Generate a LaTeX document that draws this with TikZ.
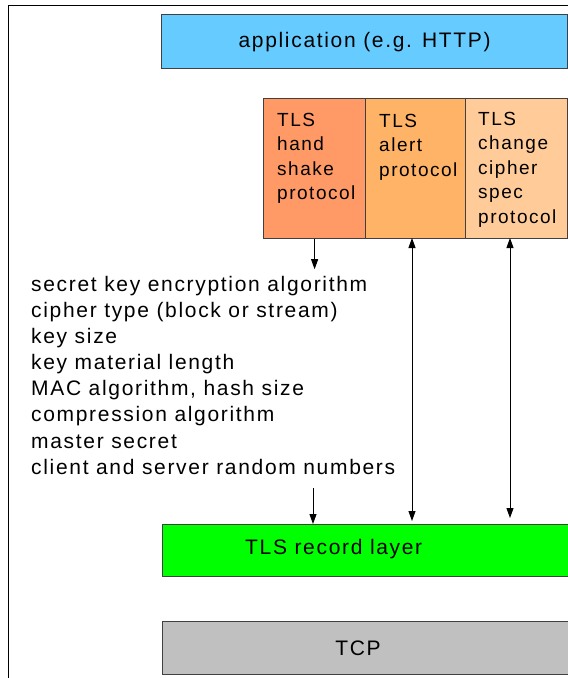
\documentclass[tikz,border=0pt]{standalone}
\usepackage{fontspec}
\setmainfont[LetterSpace=8]{Liberation Sans}
\usetikzlibrary{arrows.meta}
\definecolor{appblue}{HTML}{66CCFF}
\definecolor{hsorange}{HTML}{FF9966}
\definecolor{alorange}{HTML}{FFB366}
\definecolor{ccorange}{HTML}{FFCC99}
\definecolor{recgreen}{HTML}{00FF00}
\definecolor{tcpgray}{HTML}{C0C0C0}
\begin{document}
\begin{tikzpicture}[x=1pt, y=-1pt, >={Triangle[length=10pt, width=7pt]},
    layer/.style={draw=black!75, line width=1.2pt, anchor=north west, inner sep=0pt},
    txt/.style={font=\fontsize{21}{26.1}\selectfont, inner sep=0pt},
    boxtxt/.style={font=\fontsize{19}{24.4}\selectfont, inner sep=0pt, align=left, anchor=north west},
    link/.style={line width=0.9pt}]
  \useasboundingbox (0,0) rectangle (568,678);
  % frame, cut at the right and bottom
  \draw[line width=1pt] (8,678) -- (8,5) -- (568,5);

  % layers
  \node[layer, fill=appblue, minimum width=406pt, minimum height=54pt] (app) at (161,14)
    {\fontsize{21}{24}\selectfont application (e.g. HTTP)};
  \node[layer, fill=hsorange, minimum width=102pt, minimum height=140pt] (hs) at (263,98) {};
  \node[layer, fill=alorange, minimum width=100pt, minimum height=140pt] (al) at (365,98) {};
  \node[layer, fill=ccorange, minimum width=102pt, minimum height=140pt] (cc) at (465,98) {};
  \node[layer, fill=recgreen, minimum width=410pt, minimum height=52pt] (rec) at (162,524) {};
  \node[layer, fill=tcpgray, minimum width=410pt, minimum height=53pt] (tcp) at (162,621) {};

  \node[boxtxt] (hstxt) at (277,113) {TLS\\hand\\shake\\protocol};
  \node[boxtxt] (altxt) at (379,114) {TLS\\alert\\protocol};
  \node[boxtxt] (cctxt) at (478,112) {TLS\\change\\cipher\\spec\\protocol};
  \node[txt, anchor=west] (rectxt) at (245,549) {TLS record layer};
  \node[txt] (tcptxt) at (358,648) {TCP};

  % security parameters
  \node[txt, align=left, anchor=north west] (params) at (31,276) {secret key encryption algorithm\\
    cipher type (block or stream)\\key size\\key material length\\MAC algorithm, hash size\\
    compression algorithm\\master secret\\client and server random numbers};

  % arrows
  \coordinate (alup) at (412,238);
  \coordinate (aldn) at (412,521);
  \coordinate (ccup) at (510,238);
  \coordinate (ccdn) at (510,518);
  \coordinate (parout) at (313,488);
  \draw[link, ->] (hs.south) -- ++(0,30);
  \draw[link, <->] (alup) -- (aldn);
  \draw[link, <->] (ccup) -- (ccdn);
  \draw[link, ->] (parout) -- (parout |- rec.north);
\end{tikzpicture}
\end{document}
